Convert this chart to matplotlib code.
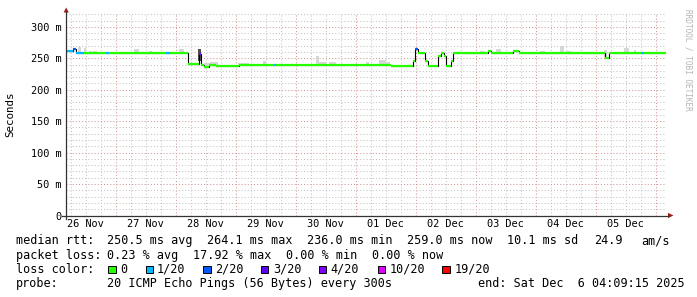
import numpy as np
import matplotlib
matplotlib.use("Agg")
import matplotlib.pyplot as plt
from matplotlib.patches import Rectangle, Polygon
from matplotlib.lines import Line2D
from matplotlib.transforms import Affine2D

plt.rcParams['font.family'] = ['DejaVu Sans Mono']

# time axis in hours since 26 Nov 2025 00:00
view_start_h = 4.154
view_end_h = 244.154
day_labels = ["26 Nov", "27 Nov", "28 Nov", "29 Nov", "30 Nov",
              "01 Dec", "02 Dec", "03 Dec", "04 Dec", "05 Dec"]
y_ticks_ms = [0, 50, 100, 150, 200, 250, 300]
y_tick_labels = ["0", "50 m", "100 m", "150 m", "200 m", "250 m", "300 m"]
y_max_ms = 322

# median rtt: segment start (h), value (ms), loss colour index
rtt_start_h = [4.15, 6.9, 8.1, 11.3, 20.1, 21.3, 25.3, 26.1, 44.1, 45.7,
               53.0, 57.3, 58.0, 59.3, 61.3, 64.1, 73.3, 87.3, 88.1, 134.1,
               143.0, 143.7, 145.0, 147.7, 149.0, 153.0, 154.0, 155.3, 156.1, 158.1,
               159.0, 173.0, 174.0, 183.0, 185.3, 219.7, 221.3, 234.1, 235.3]
rtt_ms = [262, 265, 259, 259, 259, 259, 258, 259, 259, 259,
          241, 257, 239, 236, 239, 237.5, 240, 240, 240, 237.5,
          246, 264, 258.5, 245, 237.5, 254, 258, 254, 237.5, 246,
          259, 262, 258.5, 261.5, 259, 250, 259, 259, 259]
rtt_loss = [1, 2, 1, 0, 1, 0, 0, 0, 1, 0,
            0, 4, 0, 0, 0, 0, 0, 1, 0, 0,
            0, 2, 0, 0, 0, 0, 0, 0, 0, 0,
            0, 0, 0, 0, 0, 0, 0, 1, 0]

# smoke (light grey spread above median)
smoke_start_h = [8.9, 11.3, 13.3, 14.9, 31.3, 37.3, 49.2, 59.3, 61.7, 72.9,
                 82.9, 104.1, 105.3, 109.3, 124.1, 129.3, 132.1, 169.7, 176.1, 193.7,
                 201.7, 204.1, 219.3, 227.3, 231.3]
smoke_end_h = [10.0, 12.1, 14.5, 16.5, 33.2, 38.5, 51.3, 61.7, 64.9, 77.3,
               84.1, 105.3, 108.1, 112.1, 125.3, 132.1, 133.7, 171.7, 178.1, 195.7,
               203.3, 206.1, 220.5, 229.3, 232.1]
smoke_top_ms = [267.5, 267, 262, 261, 264, 261, 265.5, 243, 244, 243,
                246, 253, 244, 244, 243.5, 248, 244, 262, 265.5, 261,
                270, 262, 263, 267, 263]
dark_smoke_h = [57.0, 58.1]
dark_smoke_ms = [246, 264]

loss_labels = ["0", "1/20", "2/20", "3/20", "4/20", "10/20", "19/20"]
loss_colors = ["#26ff00", "#00b8ff", "#0059ff", "#5e00ff", "#7e00ff", "#dd00ff", "#ff0000"]

legend_rows = [
    [("median rtt:", 16), ("250.5 ms avg", 107.3), ("264.1 ms max", 207.3),
     ("236.0 ms min", 307.3), ("259.0 ms now", 407.3), ("10.1 ms sd", 507.3),
     ("24.9", 594), ("am/s", 641.7)],
    [("packet loss:", 16), ("0.23 % avg", 107.3), ("17.92 % max", 193),
     ("0.00 % min", 286), ("0.00 % now", 372.3)],
    [("probe:", 16), ("20 ICMP Echo Pings (56 Bytes) every 300s", 107.3),
     ("end: Sat Dec  6 04:09:15 2025", 478.3)],
]

W, H = 697, 297
fig = plt.figure(figsize=(W / 100, H / 100), dpi=100, facecolor="white")
pix = Affine2D().scale(1 / W, -1 / H).translate(0, 1) + fig.transFigure

ax_left, ax_right, ax_bottom = 66.2, 666.2, 215.5
ax_height = 202.5
ax = fig.add_axes([ax_left / W, (H - ax_bottom) / H, (ax_right - ax_left) / W, ax_height / H])
ax.set_facecolor("white")
ax.set_xlim(view_start_h, view_end_h)
ax.set_ylim(0, y_max_ms)
for s in ax.spines.values():
    s.set_visible(False)

grid_gray = "#c4c4c4"
grid_red = "#d09898"
dots = (0, (1, 2))
for h in np.arange(6, view_end_h, 6):
    if h <= view_start_h:
        continue
    ax.axvline(h, color=grid_red if h % 24 == 0 else grid_gray, lw=0.75, ls=dots, zorder=0)
for v in range(10, y_max_ms + 1, 10):
    ax.axhline(v, color=grid_red if v % 50 == 0 else grid_gray, lw=0.75, ls=dots, zorder=0)

# smoke
edges = np.array(rtt_start_h + [view_end_h])
vals = np.array(rtt_ms, dtype=float)
s0 = np.array(smoke_start_h)
s1 = np.array(smoke_end_h)
idx = np.clip(np.searchsorted(edges, (s0 + s1) / 2, side="right") - 1, 0, len(vals) - 1)
base = vals[idx]
ax.bar(s0, np.array(smoke_top_ms) - base, width=s1 - s0, bottom=base, align="edge",
       color="#d6d6d6", linewidth=0, zorder=1)
ax.bar(dark_smoke_h[0], dark_smoke_ms[1] - dark_smoke_ms[0], width=dark_smoke_h[1] - dark_smoke_h[0],
       bottom=dark_smoke_ms[0], align="edge", color="#505050", linewidth=0, zorder=1)

# median line
ax.stairs(vals, edges, baseline=None, color="#000000", lw=0.8, zorder=2)
ax.hlines(vals, edges[:-1], edges[1:], colors=[loss_colors[i] for i in rtt_loss],
          lw=1.6, zorder=3, capstyle="butt")

ax.set_yticks(y_ticks_ms)
ax.set_yticklabels(y_tick_labels)
ax.set_xticks([12 + 24 * i for i in range(len(day_labels))])
ax.set_xticklabels(day_labels)
ax.tick_params(axis="both", length=0, labelsize=7.4, colors="#000000")
ax.tick_params(axis="y", pad=3.6)
ax.tick_params(axis="x", pad=2.5)

# axes lines and arrows
axis_col = "#333333"
fig.add_artist(Line2D([ax_left, ax_left], [218.5, 12], transform=pix, color=axis_col, lw=0.9))
fig.add_artist(Line2D([62, 668], [ax_bottom, ax_bottom], transform=pix, color=axis_col, lw=0.9))
arrow_col = "#9b1c1c"
fig.add_artist(Polygon([(ax_left - 2.6, 12.5), (ax_left + 2.6, 12.5), (ax_left, 7.5)],
                       closed=True, transform=pix, color=arrow_col, lw=0))
fig.add_artist(Polygon([(668, ax_bottom - 2.6), (668, ax_bottom + 2.6), (673.5, ax_bottom)],
                       closed=True, transform=pix, color=arrow_col, lw=0))

fig.text(10.5, 114, "Seconds", transform=pix, rotation=90, ha="center", va="center", fontsize=7.8)
fig.text(688, 60, "RRDTOOL / TOBI OETIKER", transform=pix, rotation=270, ha="center", va="center",
         fontsize=5.6, color="#b4b4b4")

# legend
baselines = [244.3, 258.7, 287.3]
for row, yb in zip(legend_rows, baselines):
    for txt, x in row:
        fig.text(x, yb, txt, transform=pix, ha="left", va="baseline", fontsize=8.5)
fig.text(16, 272.7, "loss color:", transform=pix, ha="left", va="baseline", fontsize=8.5)
box_x = [108.3, 145.7, 203.3, 261, 319, 377.7, 442.3]
lab_x = [120, 157, 215, 272.7, 330, 390, 454.3]
for c, lab, bx, lx in zip(loss_colors, loss_labels, box_x, lab_x):
    fig.add_artist(Rectangle((bx, 265.8), 7.2, 7.2, transform=pix, facecolor=c,
                             edgecolor="#000000", lw=0.7))
    fig.text(lx, 272.7, lab, transform=pix, ha="left", va="baseline", fontsize=8.5)

fig.savefig("out.png", dpi=100, facecolor="white")
